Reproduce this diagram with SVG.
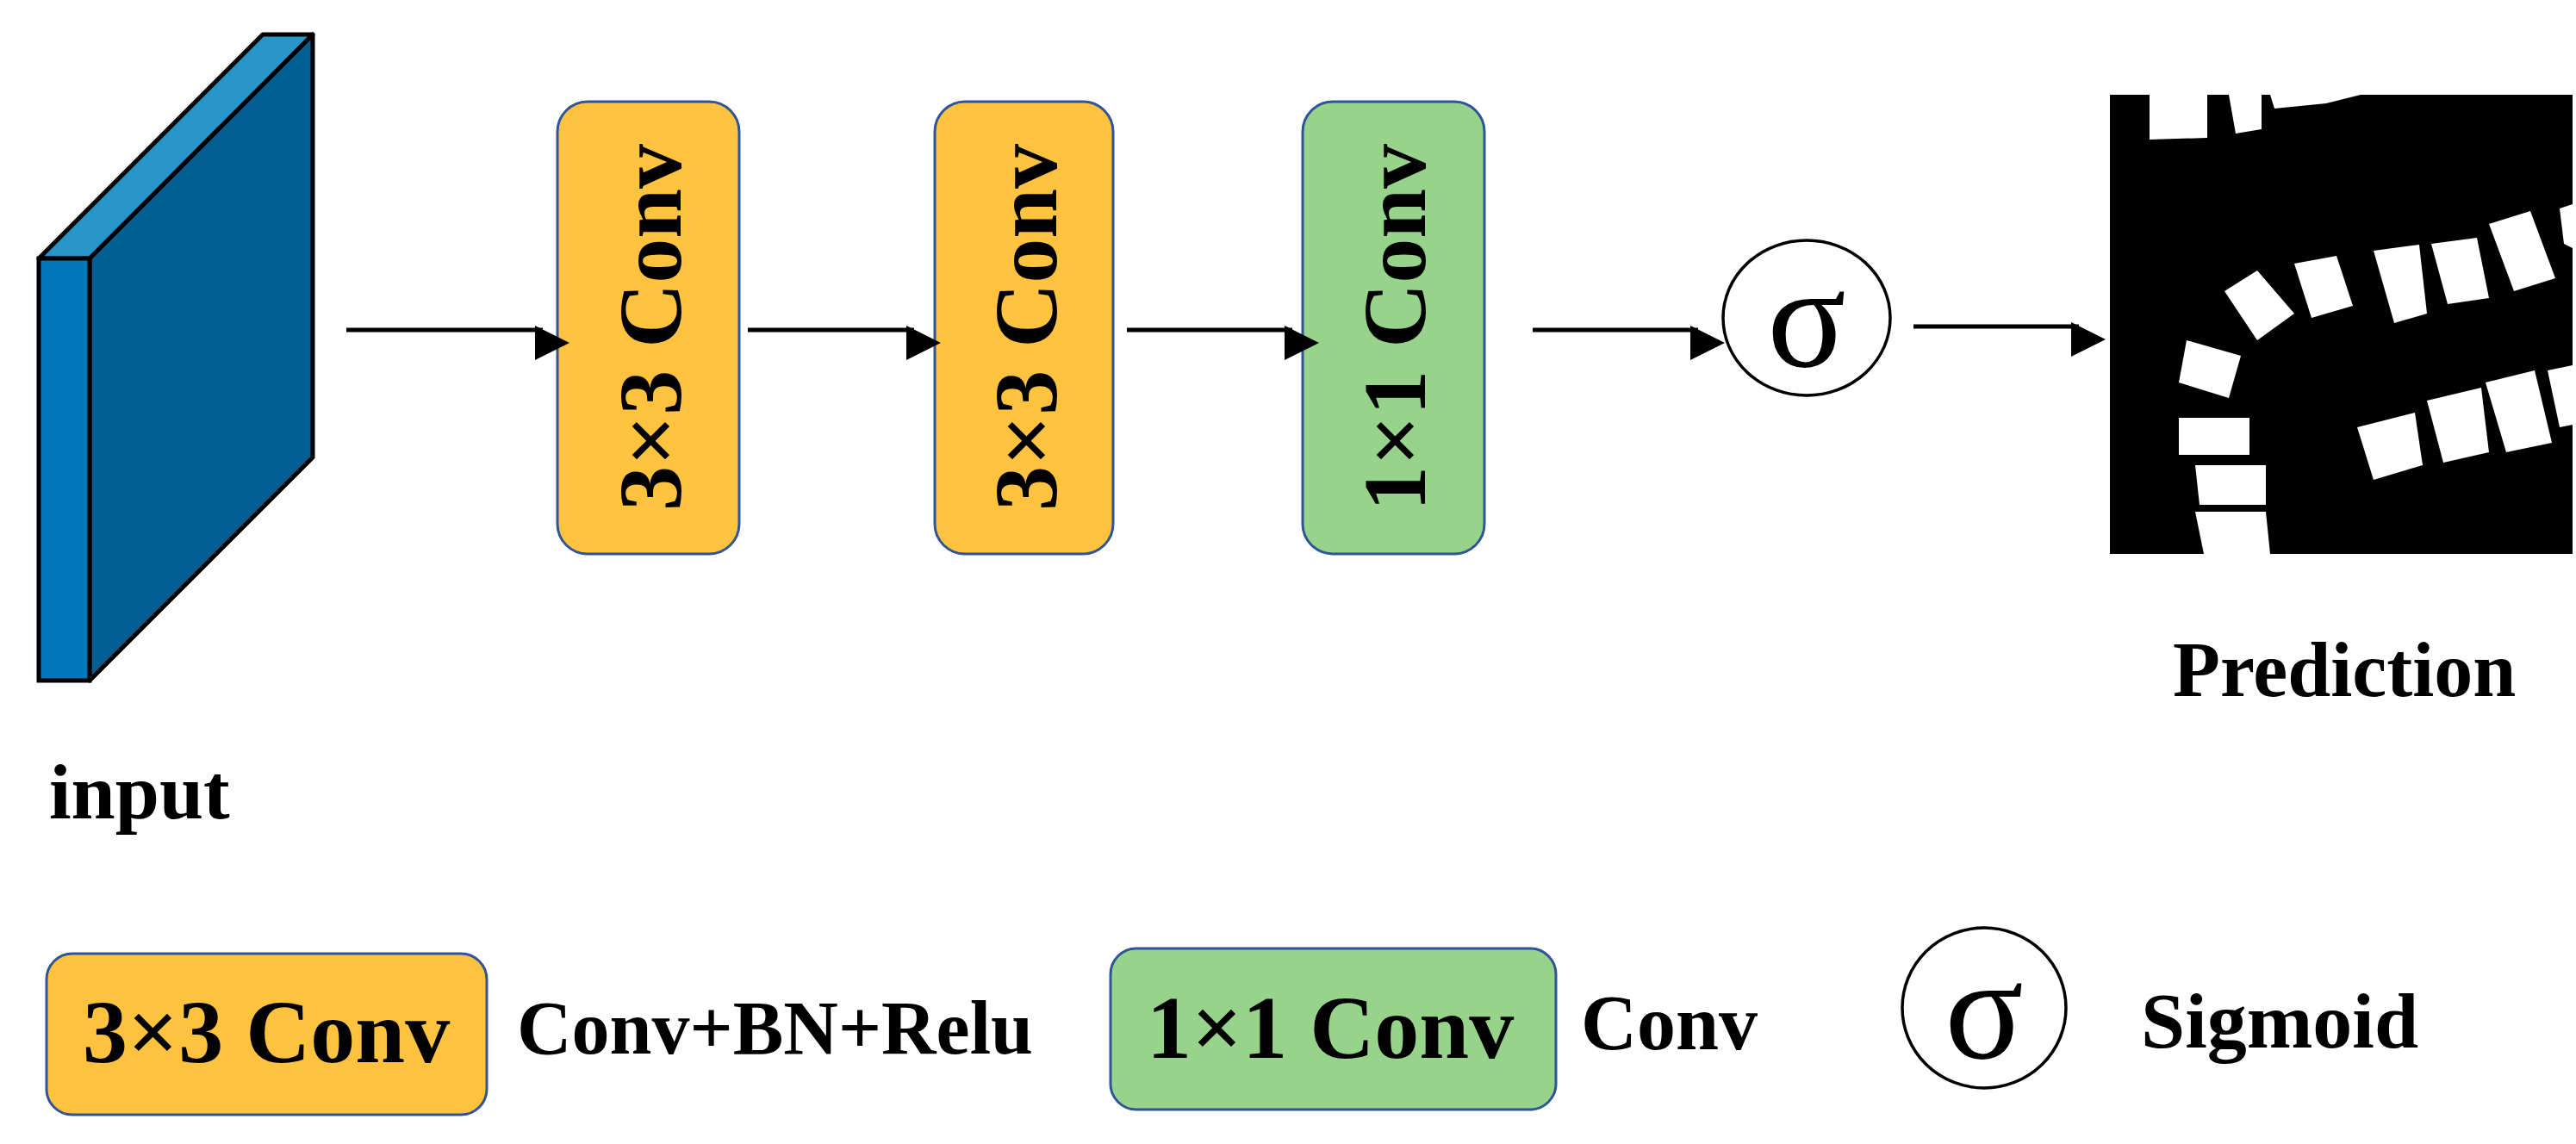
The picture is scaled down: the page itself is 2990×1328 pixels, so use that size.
<svg xmlns="http://www.w3.org/2000/svg" width="2990" height="1328" viewBox="0 0 2990 1328">
<style>
.t{font-family:"Liberation Serif",serif;font-weight:bold;fill:#000}
.box{stroke:#2F5597;stroke-width:3}
.o{fill:#FFC340}.g{fill:#97D38B}
.c{stroke:#000;stroke-width:5;fill:none}
.cu{fill:none;stroke:#000;stroke-width:3.5}
.b{fill:#fff}
</style>
<defs><marker id="ah" markerWidth="10" markerHeight="10" refX="9" refY="5" orient="auto" markerUnits="userSpaceOnUse" viewBox="0 0 10 10" style="overflow:visible"><path d="M0,0 L10,5 L0,10 Z" fill="#000" transform="scale(4)"/></marker></defs>
<rect width="2990" height="1328" fill="#fff"/>
<g id="input">
<polygon points="104,300 363,40 363,531 104,790" fill="#035E94" stroke="#000" stroke-width="5" stroke-linejoin="round"/>
<polygon points="45,300 104,300 363,40 305,40" fill="#2894C8" stroke="#000" stroke-width="5" stroke-linejoin="round"/>
<rect x="45" y="300" width="59" height="490" fill="#0077BB" stroke="#000" stroke-width="5"/>
<text class="t" x="57" y="950" font-size="92">input</text>
</g>
<g id="conv1"><rect class="box o" x="647" y="118" width="211" height="525" rx="35"/>
<text class="t" font-size="104" text-anchor="middle" transform="translate(790,380) rotate(-90)">3×3 Conv</text></g>
<g id="conv2"><rect class="box o" x="1085" y="118" width="207" height="525" rx="35"/>
<text class="t" font-size="104" text-anchor="middle" transform="translate(1226,380) rotate(-90)">3×3 Conv</text></g>
<g id="conv3"><rect class="box g" x="1512" y="118" width="211" height="525" rx="35"/>
<text class="t" font-size="104" text-anchor="middle" transform="translate(1654,380) rotate(-90)">1×1 Conv</text></g>
<g id="sigma"><ellipse class="cu" cx="2097" cy="369" rx="97" ry="90"/>
<text x="2097" y="425" font-family="Liberation Serif,serif" font-size="170" text-anchor="middle">σ</text></g>
<g id="prediction">
<rect x="2449" y="110" width="537" height="533" fill="#000"/>
<polygon class="b" points="2495,110 2562,110 2562,160 2495,162"/>
<polygon class="b" points="2587,110 2625,110 2625,150 2595,155"/>
<polygon class="b" points="2635,110 2740,110 2700,120 2640,126"/>
<polygon class="b" points="2582,338 2620,314 2663,364 2620,395"/>
<polygon class="b" points="2663,306 2712,297 2731,355 2683,369"/>
<polygon class="b" points="2755,291 2808,284 2817,364 2779,375"/>
<polygon class="b" points="2822,283 2875,276 2889,346 2841,353"/>
<polygon class="b" points="2889,260 2937,245 2966,323 2918,338"/>
<polygon class="b" points="2971,242 2986,237 2986,288 2976,283"/>
<polygon class="b" points="2538,395 2601,413 2587,462 2529,444"/>
<polygon class="b" points="2529,485 2611,485 2611,528 2529,528"/>
<polygon class="b" points="2548,540 2630,540 2630,586 2553,586"/>
<polygon class="b" points="2548,594 2630,594 2635,643 2558,643"/>
<polygon class="b" points="2736,496 2803,479 2812,540 2755,557"/>
<polygon class="b" points="2817,465 2880,450 2889,525 2836,537"/>
<polygon class="b" points="2885,444 2942,430 2962,514 2909,525"/>
<polygon class="b" points="2957,430 2986,424 2986,493 2971,496"/>
<text class="t" x="2522" y="808" font-size="90">Prediction</text>
</g>
<g id="connectors">
<line class="c" x1="402" y1="383" x2="630" y2="383" marker-end="url(#ah)"/>
<line class="c" x1="868" y1="383" x2="1061" y2="383" marker-end="url(#ah)"/>
<line class="c" x1="1308" y1="383" x2="1500" y2="383" marker-end="url(#ah)"/>
<line class="c" x1="1779" y1="383" x2="1971" y2="383" marker-end="url(#ah)"/>
<line class="c" x1="2221" y1="379" x2="2413" y2="379" marker-end="url(#ah)"/>
</g>
<g id="legend">
<rect class="box o" x="54" y="1107" width="511" height="187" rx="30"/>
<text class="t" x="96" y="1233" font-size="104">3×3 Conv</text>
<text class="t" x="600" y="1223" font-size="88">Conv+BN+Relu</text>
<rect class="box g" x="1289" y="1101" width="517" height="187" rx="30"/>
<text class="t" x="1331" y="1228" font-size="104">1×1 Conv</text>
<text class="t" x="1835" y="1218" font-size="90">Conv</text>
<ellipse class="cu" cx="2303" cy="1170" rx="95" ry="93"/>
<text x="2303" y="1228" font-family="Liberation Serif,serif" font-size="170" text-anchor="middle">σ</text>
<text class="t" x="2485" y="1216" font-size="92">Sigmoid</text>
</g>
</svg>
